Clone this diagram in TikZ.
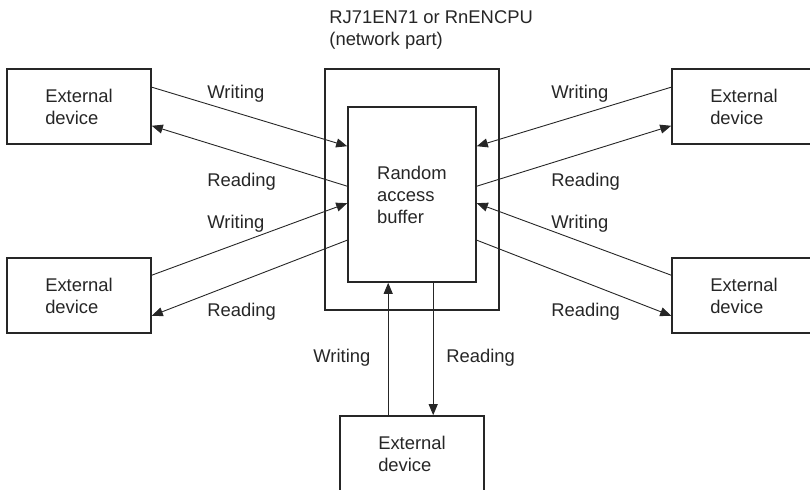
\documentclass[tikz,border=0pt]{standalone}
\usepackage{fontspec}
\setmainfont{Liberation Sans}
\usetikzlibrary{arrows.meta,positioning,calc}

\begin{document}
\begin{tikzpicture}[x=0.5pt, y=-0.5pt,
    txt/.style={font=\fontsize{9.2}{11}\selectfont, text=black!85, inner sep=0pt},
    devbox/.style={draw=black!85, line width=0.8pt, minimum width=72pt, minimum height=37.5pt, align=left, txt},
    conn/.style={draw=black!85, line width=0.45pt, -{Triangle[length=5.5pt, width=4.5pt]}}]
% Frame
\clip (0,0) rectangle (810,490);
% Module and buffer
\node[draw=black!85, line width=0.8pt, minimum width=87pt, minimum height=120.5pt] (unit) at (412,189.5) {};
\node[devbox, fill=white, minimum width=64pt, minimum height=87.5pt, yshift=2pt] (buf) at (412,198.5) {Random\\access\\buffer};
\node[txt, anchor=base west, align=left] (title) at (329,46) {RJ71EN71 or RnENCPU\\(network part)};
% External devices
\node[devbox] (tl) at (79,106.5) {External\\device};
\node[devbox] (bl) at (79,295.5) {External\\device};
\node[devbox] (tr) at (744,106.5) {External\\device};
\node[devbox] (br) at (744,295.5) {External\\device};
\node[devbox] (bt) at (412,453.5) {External\\device};
% Left side
\draw[conn] ($(tl.north east)+(0,19)$) -- ($(buf.north west)+(0,40)$);
\draw[conn] ($(buf.north west)+(0,80)$) -- ($(tl.south east)+(0,-19)$);
\draw[conn] ($(bl.north east)+(0,18)$) -- ($(buf.north west)+(0,97)$);
\draw[conn] ($(buf.north west)+(0,134)$) -- ($(bl.south east)+(0,-18)$);
% Right side
\draw[conn] ($(tr.north west)+(0,19)$) -- ($(buf.north east)+(0,40)$);
\draw[conn] ($(buf.north east)+(0,80)$) -- ($(tr.south west)+(0,-19)$);
\draw[conn] ($(br.north west)+(0,18)$) -- ($(buf.north east)+(0,97)$);
\draw[conn] ($(buf.north east)+(0,134)$) -- ($(br.south west)+(0,-18)$);
% Bottom
\coordinate (wb) at ($(bt.north west)+(49,0)$);
\coordinate (rb) at ($(buf.south west)+(86,0)$);
\draw[conn] (wb) -- (wb |- buf.south);
\draw[conn] (rb) -- (rb |- bt.north);
% Labels
\node[txt, anchor=base west] (w1) at (207,99) {Writing};
\node[txt, anchor=base west] (r1) at (207,187) {Reading};
\node[txt, anchor=base west] (w2) at (207,229) {Writing};
\node[txt, anchor=base west] (r2) at (207,317) {Reading};
\node[txt, anchor=base west] (w3) at (551,99) {Writing};
\node[txt, anchor=base west] (r3) at (551,187) {Reading};
\node[txt, anchor=base west] (w4) at (551,229) {Writing};
\node[txt, anchor=base west] (r4) at (551,317) {Reading};
\node[txt, anchor=base west] (w5) at (313,363) {Writing};
\node[txt, anchor=base west] (r5) at (446,363) {Reading};
\end{tikzpicture}
\end{document}
